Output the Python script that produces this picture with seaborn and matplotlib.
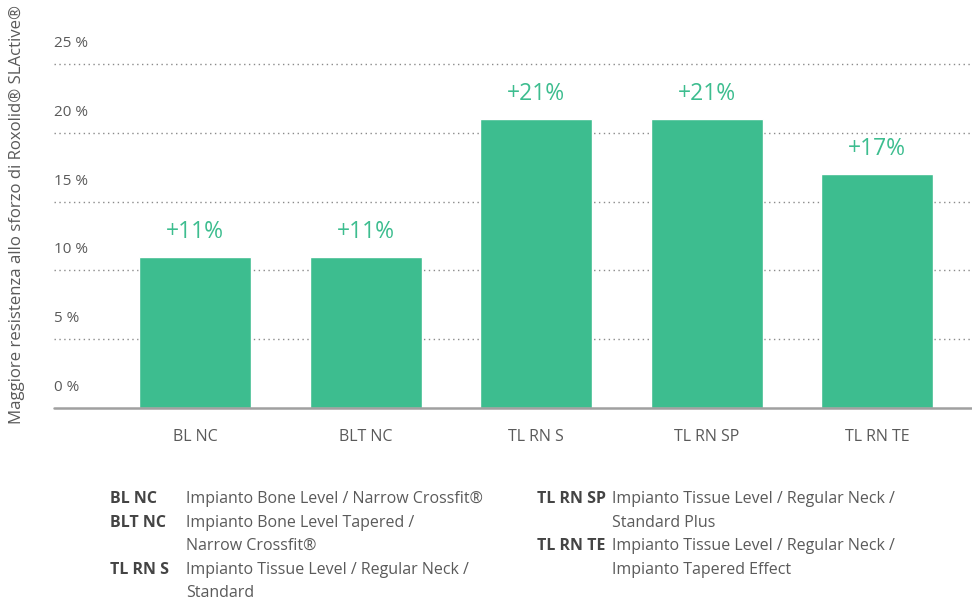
import matplotlib
matplotlib.use("Agg")
import matplotlib.pyplot as plt
import seaborn as sns
import pandas as pd

categories = ["BL NC", "BLT NC", "TL RN S", "TL RN SP", "TL RN TE"]
values = [11, 11, 21, 21, 17]
value_labels = ["+11%", "+11%", "+21%", "+21%", "+17%"]
y_ticks = [0, 5, 10, 15, 20, 25]
y_tick_labels = ["0 %", "5 %", "10 %", "15 %", "20 %", "25 %"]
y_label = "Maggiore resistenza allo sforzo di Roxolid® SLActive®"
legend_left = [("BL NC", "Impianto Bone Level / Narrow Crossfit®"),
               ("BLT NC", "Impianto Bone Level Tapered /\nNarrow Crossfit®"),
               ("TL RN S", "Impianto Tissue Level / Regular Neck /\nStandard")]
legend_right = [("TL RN SP", "Impianto Tissue Level / Regular Neck /\nStandard Plus"),
                ("TL RN TE", "Impianto Tissue Level / Regular Neck /\nImpianto Tapered Effect")]

GREEN = "#3dbd8f"
GRAY = "#5a5a5a"
DARK = "#444444"

sns.set_theme(style="white")
plt.rcParams["font.family"] = ["Open Sans", "DejaVu Sans"]

W, H = 972, 601
fig = plt.figure(figsize=(W / 100, H / 100), dpi=100)
ax = fig.add_axes([54 / W, (H - 408) / H, 1 - 54 / W, (408 - 64) / H])

df = pd.DataFrame({"cat": categories, "val": values})
sns.barplot(data=df, x="cat", y="val", color=GREEN, saturation=1, width=0.657,
            ax=ax, zorder=3)

ax.set_xlim(-0.827, 4.557)
ax.set_ylim(0, 25)

# dotted grid lines
for t in y_ticks[1:]:
    ax.axhline(t, color="#8a8a8a", lw=1.0, ls=(0, (1, 2.5)), zorder=1, clip_on=False)
ax.axhline(0, color="#a0a0a0", lw=1.8, zorder=4, clip_on=False)

# y tick labels above lines
for t, lab in zip(y_ticks, y_tick_labels):
    ax.annotate(lab, xy=(0, t), xycoords=("axes fraction", "data"),
                xytext=(0, 13), textcoords="offset pixels",
                ha="left", va="bottom", fontsize=11, color=GRAY, annotation_clip=False)

ax.set_yticks([])
ax.set_xlabel("")
ax.set_ylabel("")
ax.tick_params(axis="x", length=0, pad=15, labelsize=11.5, labelcolor=GRAY)
for s in ax.spines.values():
    s.set_visible(False)

# value labels
for i, (v, lab) in enumerate(zip(values, value_labels)):
    ax.annotate(lab, xy=(i, v), xytext=(0, 13), textcoords="offset pixels",
                ha="center", va="bottom", fontsize=16.5, color=GREEN, annotation_clip=False)

fig.text(17 / W, 1 - 214 / H, y_label, rotation=90, ha="center", va="center",
         fontsize=12.1, color=GRAY)

# legend block
line_h = 23.6
def draw_legend(items, x_abbr, x_desc, y0):
    y = y0
    for abbr, desc in items:
        fig.text(x_abbr / W, 1 - y / H, abbr, ha="left", va="center", fontsize=11.5,
                 fontweight="bold", color=DARK)
        for line in desc.split("\n"):
            fig.text(x_desc / W, 1 - y / H, line, ha="left", va="center",
                     fontsize=11.5, color=GRAY)
            y += line_h

draw_legend(legend_left, 110, 186, 499)
draw_legend(legend_right, 537, 612, 499)

fig.savefig("out.png", dpi=100)
